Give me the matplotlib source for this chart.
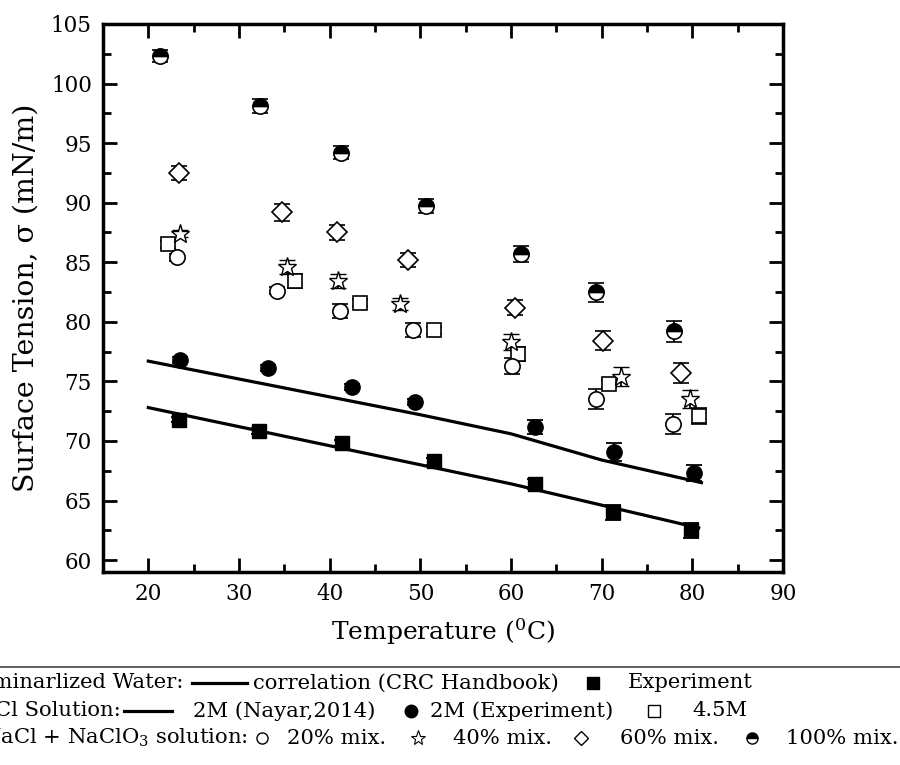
import numpy as np
import matplotlib
matplotlib.use('Agg')
import matplotlib.pyplot as plt

plt.rcParams['font.family'] = ['DejaVu Serif']
plt.rcParams['mathtext.fontset'] = 'dejavuserif'

# --- data ---
# deminarlized water
T_w = [23.4, 32.2, 41.4, 51.5, 62.6, 71.2, 79.9]
s_w = [71.8, 70.8, 69.8, 68.3, 66.4, 64.0, 62.5]
e_w = [0.25, 0.25, 0.25, 0.3, 0.4, 0.6, 0.65]
T_crc = [20, 40, 60, 80.7]
s_crc = [72.8, 69.6, 66.4, 62.7]

# NaCl solution
T_2m = [23.5, 33.2, 42.5, 49.4, 62.6, 71.4, 80.2]
s_2m = [76.8, 76.1, 74.5, 73.3, 71.2, 69.1, 67.3]
e_2m = [0.25, 0.25, 0.25, 0.25, 0.6, 0.75, 0.7]
T_nay = [20, 30, 40, 50, 60, 70, 81]
s_nay = [76.7, 75.2, 73.7, 72.2, 70.6, 68.4, 66.5]

T_45 = [22.2, 36.2, 43.4, 51.5, 60.8, 70.8, 80.7]
s_45 = [86.5, 83.4, 81.6, 79.3, 77.3, 74.8, 72.1]
e_45 = [0.3, 0.6, 0.3, 0.3, 0.55, 0.3, 0.7]

# NaCl + NaClO3 mixtures
T_20 = [23.2, 34.2, 41.1, 49.2, 60.1, 69.4, 77.9]
s_20 = [85.4, 82.6, 80.9, 79.3, 76.3, 73.5, 71.4]
e_20 = [0.3, 0.3, 0.6, 0.6, 0.65, 0.85, 0.85]

T_40 = [23.5, 35.3, 40.9, 47.8, 60.0, 72.1, 79.7]
s_40 = [87.4, 84.6, 83.4, 81.5, 78.3, 75.4, 73.5]
e_40 = [0.3, 0.6, 0.6, 0.5, 0.65, 0.8, 0.75]

T_60 = [23.4, 34.7, 40.8, 48.6, 60.4, 70.2, 78.8]
s_60 = [92.5, 89.2, 87.5, 85.2, 81.2, 78.4, 75.7]
e_60 = [0.6, 0.7, 0.65, 0.6, 0.6, 0.8, 0.85]

T_100 = [21.3, 32.3, 41.2, 50.6, 61.1, 69.4, 78.0]
s_100 = [102.3, 98.1, 94.2, 89.7, 85.7, 82.5, 79.2]
e_100 = [0.5, 0.6, 0.55, 0.6, 0.65, 0.8, 0.9]

fig = plt.figure(figsize=(9, 7.65), dpi=100)
ax = fig.add_axes([103/900, 1-572/765, 680/900, 548/765])

eb = dict(ecolor='black', elinewidth=1.3, capsize=6, capthick=1.3, linestyle='none')
ax.plot(T_crc, s_crc, 'k-', lw=2.3)
ax.plot(T_nay, s_nay, 'k-', lw=2.3)
ax.errorbar(T_w, s_w, yerr=e_w, marker='s', ms=10, mfc='black', mec='black', **eb)
ax.errorbar(T_2m, s_2m, yerr=e_2m, marker='o', ms=11, mfc='black', mec='black', **eb)
ax.errorbar(T_45, s_45, yerr=e_45, marker='s', ms=10, mfc='white', mec='black', mew=1.2, **eb)
ax.errorbar(T_20, s_20, yerr=e_20, marker='o', ms=11, mfc='white', mec='black', mew=1.2, **eb)
ax.errorbar(T_40, s_40, yerr=e_40, marker='*', ms=14, mfc='white', mec='black', mew=1.0, **eb)
ax.errorbar(T_60, s_60, yerr=e_60, marker='D', ms=10, mfc='white', mec='black', mew=1.2, **eb)
ax.errorbar(T_100, s_100, yerr=e_100, marker='o', ms=11, fillstyle='top', mfc='black',
            mfcalt='white', mec='black', mew=1.2, **eb)

ax.set_xlim(15, 90)
ax.set_ylim(59, 105)
ax.set_xticks(np.arange(20, 91, 10))
ax.set_yticks(np.arange(60, 106, 5))
ax.set_xticks(np.arange(15, 91, 5), minor=True)
ax.set_yticks(np.arange(60, 106, 2.5), minor=True)
ax.tick_params(which='both', direction='in', top=True, right=True, width=2, labelsize=15.5)
ax.tick_params(which='major', length=10, pad=8)
ax.tick_params(which='minor', length=6)
for sp in ax.spines.values():
    sp.set_linewidth(2.5)
ax.set_xlabel(r'Temperature ($^0$C)', fontsize=18, labelpad=8)
ax.set_ylabel('Surface Tension, \u03c3 (mN/m)', fontsize=20.5, labelpad=8)

# --- legend block below the plot (pixel coordinates) ---
lg = fig.add_axes([0, 0, 1, 1])
lg.set_xlim(0, 900)
lg.set_ylim(765, 0)
lg.axis('off')
lg.plot([0, 900], [667, 667], color='#444444', lw=1.2)
fs = 15.2
y1, y2, y3 = 683, 711, 738
lg.text(183, y1, 'Deminarlized Water:', fontsize=fs, ha='right', va='center')
lg.plot([192, 247], [y1, y1], 'k-', lw=2.3)
lg.text(253, y1, 'correlation (CRC Handbook)', fontsize=fs, va='center')
lg.plot([593], [y1], marker='s', ms=9, color='black')
lg.text(628, y1, 'Experiment', fontsize=fs, va='center')

lg.text(121, y2, 'NaCl Solution:', fontsize=fs, ha='right', va='center')
lg.plot([124, 172], [y2, y2], 'k-', lw=2.3)
lg.text(193, y2, '2M (Nayar,2014)', fontsize=fs, va='center')
lg.plot([411], [y2], marker='o', ms=9, color='black')
lg.text(430, y2, '2M (Experiment)', fontsize=fs, va='center')
lg.plot([654], [y2], marker='s', ms=8, mfc='white', mec='black', mew=1)
lg.text(692, y2, '4.5M', fontsize=fs, va='center')

lg.text(248, y3, r'NaCl + NaClO$_3$ solution:', fontsize=fs, ha='right', va='center')
lg.plot([262], [y3], marker='o', ms=8, mfc='white', mec='black', mew=1)
lg.text(287, y3, '20% mix.', fontsize=fs, va='center')
lg.plot([418], [y3], marker='*', ms=11, mfc='white', mec='black', mew=0.8)
lg.text(453, y3, '40% mix.', fontsize=fs, va='center')
lg.plot([581], [y3], marker='D', ms=7, mfc='white', mec='black', mew=1)
lg.text(620, y3, '60% mix.', fontsize=fs, va='center')
lg.plot([752], [y3], marker='o', ms=8, fillstyle='top', mfc='black', mfcalt='white',
        mec='black', mew=1)
lg.text(786, y3, '100% mix.', fontsize=fs, va='center')

fig.savefig('out.png', dpi=100)
